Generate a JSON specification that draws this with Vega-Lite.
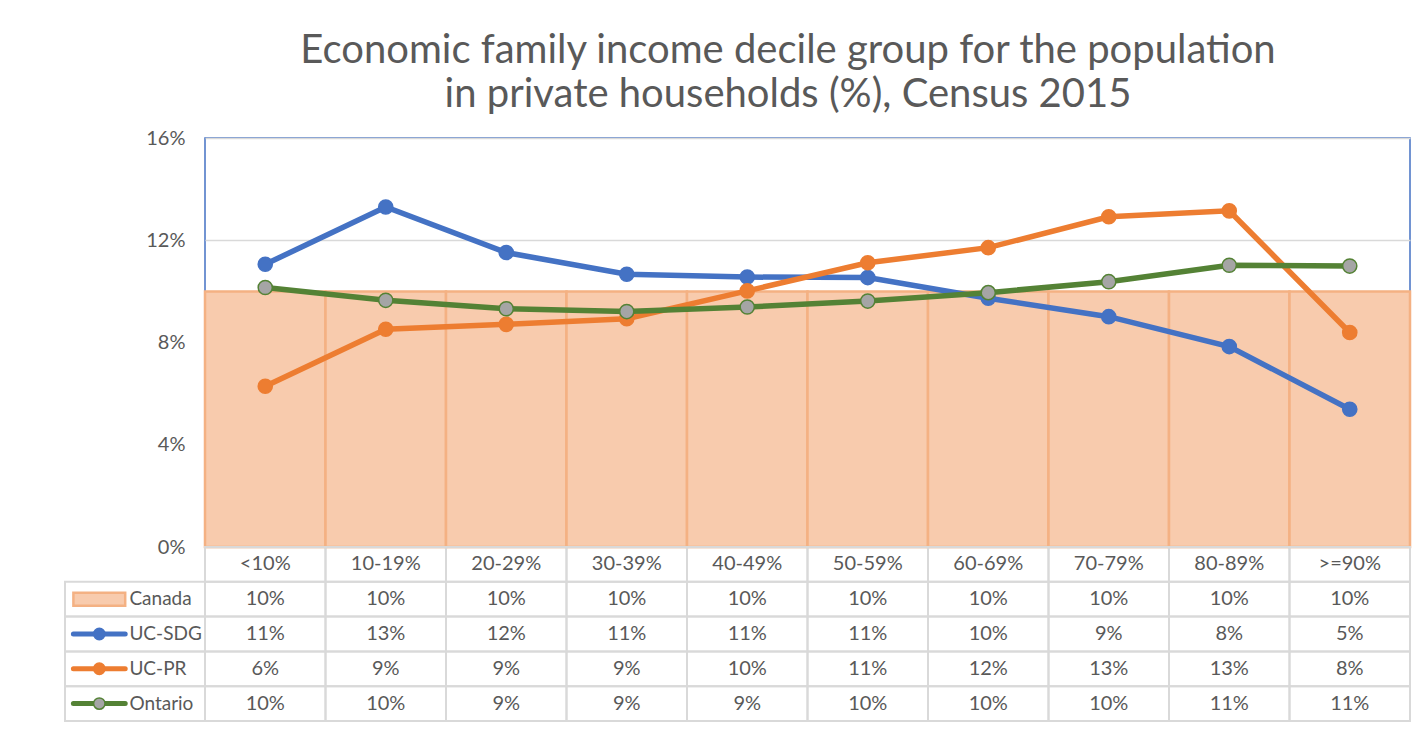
{
  "$schema": "https://vega.github.io/schema/vega-lite/v6.json",
  "padding": {"left": 64, "top": 31, "right": 2, "bottom": 10},
  "background": "white",
  "datasets": {
    "d": [
      {"category": "<10%", "series": "Canada", "value": 0.1},
      {"category": "10-19%", "series": "Canada", "value": 0.1},
      {"category": "20-29%", "series": "Canada", "value": 0.1},
      {"category": "30-39%", "series": "Canada", "value": 0.1},
      {"category": "40-49%", "series": "Canada", "value": 0.1},
      {"category": "50-59%", "series": "Canada", "value": 0.1},
      {"category": "60-69%", "series": "Canada", "value": 0.1},
      {"category": "70-79%", "series": "Canada", "value": 0.1},
      {"category": "80-89%", "series": "Canada", "value": 0.1},
      {"category": ">=90%", "series": "Canada", "value": 0.1},
      {"category": "<10%", "series": "UC-SDG", "value": 0.1106},
      {"category": "10-19%", "series": "UC-SDG", "value": 0.133},
      {"category": "20-29%", "series": "UC-SDG", "value": 0.1152},
      {"category": "30-39%", "series": "UC-SDG", "value": 0.1067},
      {"category": "40-49%", "series": "UC-SDG", "value": 0.1056},
      {"category": "50-59%", "series": "UC-SDG", "value": 0.1054},
      {"category": "60-69%", "series": "UC-SDG", "value": 0.0973},
      {"category": "70-79%", "series": "UC-SDG", "value": 0.0901},
      {"category": "80-89%", "series": "UC-SDG", "value": 0.0784},
      {"category": ">=90%", "series": "UC-SDG", "value": 0.0539},
      {"category": "<10%", "series": "UC-PR", "value": 0.0629},
      {"category": "10-19%", "series": "UC-PR", "value": 0.0852},
      {"category": "20-29%", "series": "UC-PR", "value": 0.0871},
      {"category": "30-39%", "series": "UC-PR", "value": 0.0893},
      {"category": "40-49%", "series": "UC-PR", "value": 0.1002},
      {"category": "50-59%", "series": "UC-PR", "value": 0.1112},
      {"category": "60-69%", "series": "UC-PR", "value": 0.1171},
      {"category": "70-79%", "series": "UC-PR", "value": 0.1292},
      {"category": "80-89%", "series": "UC-PR", "value": 0.1315},
      {"category": ">=90%", "series": "UC-PR", "value": 0.0839},
      {"category": "<10%", "series": "Ontario", "value": 0.1015},
      {"category": "10-19%", "series": "Ontario", "value": 0.0965},
      {"category": "20-29%", "series": "Ontario", "value": 0.0932},
      {"category": "30-39%", "series": "Ontario", "value": 0.0921},
      {"category": "40-49%", "series": "Ontario", "value": 0.0939},
      {"category": "50-59%", "series": "Ontario", "value": 0.0962},
      {"category": "60-69%", "series": "Ontario", "value": 0.0995},
      {"category": "70-79%", "series": "Ontario", "value": 0.1038},
      {"category": "80-89%", "series": "Ontario", "value": 0.1102},
      {"category": ">=90%", "series": "Ontario", "value": 0.1099}
    ]
  },
  "title": {
    "text": ["Economic family income decile group for the population", "in private households (%), Census 2015"],
    "font": "Lato",
    "fontSize": 40,
    "fontWeight": "normal",
    "color": "#595959",
    "anchor": "middle",
    "dx": 50,
    "lineHeight": 44,
    "offset": 12
  },
  "columns": 2,
  "spacing": 0,
  "bounds": "flush",
  "align": "each",
  "concat": [
    {
      "width": 140,
      "height": 409,
      "data": {"values": [{"a": 1}]},
      "mark": {"type": "point", "opacity": 0},
      "encoding": {}
    },
    {
      "width": 1205,
      "height": 409,
      "view": {"stroke": "#4472C4", "strokeWidth": 1.5},
      "data": {"name": "d"},
      "encoding": {
        "x": {
          "field": "category",
          "type": "nominal",
          "sort": ["<10%", "10-19%", "20-29%", "30-39%", "40-49%", "50-59%", "60-69%", "70-79%", "80-89%", ">=90%"],
          "scale": {"paddingInner": 0, "paddingOuter": 0},
          "axis": null
        },
        "y": {
          "field": "value",
          "type": "quantitative",
          "scale": {"domain": [0, 0.16]},
          "axis": {
            "values": [0, 0.04, 0.08, 0.12, 0.16],
            "format": ".0%",
            "grid": true,
            "gridColor": "#D9D9D9",
            "gridWidth": 1.5,
            "domain": false,
            "ticks": false,
            "labelPadding": 20,
            "labelFont": "Lato",
            "labelFontSize": 20,
            "labelColor": "#595959",
            "title": null
          }
        }
      },
      "layer": [
        {
          "transform": [{"filter": "datum.series === 'Canada'"}],
          "mark": {"type": "bar", "fill": "#F8CBAD", "stroke": "#F4B183", "strokeWidth": 2.5}
        },
        {
          "transform": [{"filter": "datum.series !== 'Canada'"}],
          "mark": {"type": "line", "strokeWidth": 5.5},
          "encoding": {
            "color": {
              "field": "series",
              "type": "nominal",
              "scale": {"domain": ["UC-SDG", "UC-PR", "Ontario"], "range": ["#4472C4", "#ED7D31", "#548235"]},
              "legend": null
            }
          }
        },
        {
          "transform": [{"filter": "datum.series !== 'Canada'"}],
          "mark": {"type": "point", "filled": true, "size": 200, "strokeWidth": 1.5, "opacity": 1},
          "encoding": {
            "fill": {
              "field": "series",
              "type": "nominal",
              "scale": {"domain": ["UC-SDG", "UC-PR", "Ontario"], "range": ["#4472C4", "#ED7D31", "#A5A5A5"]},
              "legend": null
            },
            "stroke": {
              "field": "series",
              "type": "nominal",
              "scale": {"domain": ["UC-SDG", "UC-PR", "Ontario"], "range": ["#4472C4", "#ED7D31", "#548235"]},
              "legend": null
            }
          }
        }
      ]
    },
    {
      "width": 140,
      "height": 174,
      "data": {"name": "d"},
      "transform": [{"filter": "datum.category === '<10%'"}],
      "encoding": {
        "y": {
          "field": "series",
          "type": "nominal",
          "scale": {"domain": ["header", "Canada", "UC-SDG", "UC-PR", "Ontario"], "paddingInner": 0, "paddingOuter": 0},
          "axis": null
        }
      },
      "layer": [
        {
          "mark": {"type": "rect", "fill": "transparent", "stroke": "#D9D9D9", "strokeWidth": 2},
          "encoding": {
            "x": {"datum": 0, "type": "quantitative", "scale": {"domain": [0, 1]}, "axis": null},
            "x2": {"datum": 1}
          }
        },
        {
          "transform": [{"filter": "datum.series === 'Canada'"}],
          "mark": {"type": "bar", "height": 13, "fill": "#F8CBAD", "stroke": "#F4B183", "strokeWidth": 2.5},
          "encoding": {
            "x": {"datum": 0.06, "type": "quantitative"},
            "x2": {"datum": 0.43}
          }
        },
        {
          "transform": [{"filter": "datum.series !== 'Canada'"}],
          "mark": {"type": "rule", "strokeWidth": 5, "strokeCap": "round"},
          "encoding": {
            "x": {"datum": 0.06, "type": "quantitative"},
            "x2": {"datum": 0.43},
            "color": {
              "field": "series",
              "type": "nominal",
              "scale": {"domain": ["UC-SDG", "UC-PR", "Ontario"], "range": ["#4472C4", "#ED7D31", "#548235"]},
              "legend": null
            }
          }
        },
        {
          "transform": [{"filter": "datum.series !== 'Canada'"}],
          "mark": {"type": "point", "filled": true, "size": 130, "strokeWidth": 1.5, "opacity": 1},
          "encoding": {
            "x": {"datum": 0.245, "type": "quantitative"},
            "fill": {
              "field": "series",
              "type": "nominal",
              "scale": {"domain": ["UC-SDG", "UC-PR", "Ontario"], "range": ["#4472C4", "#ED7D31", "#A5A5A5"]},
              "legend": null
            },
            "stroke": {
              "field": "series",
              "type": "nominal",
              "scale": {"domain": ["UC-SDG", "UC-PR", "Ontario"], "range": ["#4472C4", "#ED7D31", "#548235"]},
              "legend": null
            }
          }
        },
        {
          "mark": {"type": "text", "align": "left", "baseline": "middle", "font": "Lato", "fontSize": 19, "color": "#595959"},
          "encoding": {
            "x": {"datum": 0.46, "type": "quantitative"},
            "text": {"field": "series", "type": "nominal"}
          }
        }
      ]
    },
    {
      "width": 1205,
      "height": 174,
      "data": {"name": "d"},
      "encoding": {
        "x": {
          "field": "category",
          "type": "nominal",
          "sort": ["<10%", "10-19%", "20-29%", "30-39%", "40-49%", "50-59%", "60-69%", "70-79%", "80-89%", ">=90%"],
          "scale": {"paddingInner": 0, "paddingOuter": 0},
          "axis": null
        },
        "y": {
          "field": "series",
          "type": "nominal",
          "scale": {"domain": ["header", "Canada", "UC-SDG", "UC-PR", "Ontario"], "paddingInner": 0, "paddingOuter": 0},
          "axis": null
        }
      },
      "layer": [
        {
          "mark": {"type": "rect", "fill": "transparent", "stroke": "#D9D9D9", "strokeWidth": 2}
        },
        {
          "mark": {"type": "text", "baseline": "middle", "font": "Lato", "fontSize": 20, "color": "#595959"},
          "encoding": {"text": {"field": "value", "type": "quantitative", "format": ".0%"}}
        },
        {
          "transform": [{"filter": "datum.series === 'Canada'"}],
          "mark": {"type": "rect", "fill": "transparent", "stroke": "#D9D9D9", "strokeWidth": 2},
          "encoding": {"y": {"datum": "header"}}
        },
        {
          "transform": [{"filter": "datum.series === 'Canada'"}],
          "mark": {"type": "text", "baseline": "middle", "font": "Lato", "fontSize": 20, "color": "#595959"},
          "encoding": {"y": {"datum": "header"}, "text": {"field": "category", "type": "nominal"}}
        }
      ]
    }
  ],
  "config": {
    "view": {"stroke": null},
    "font": "Lato"
  }
}
